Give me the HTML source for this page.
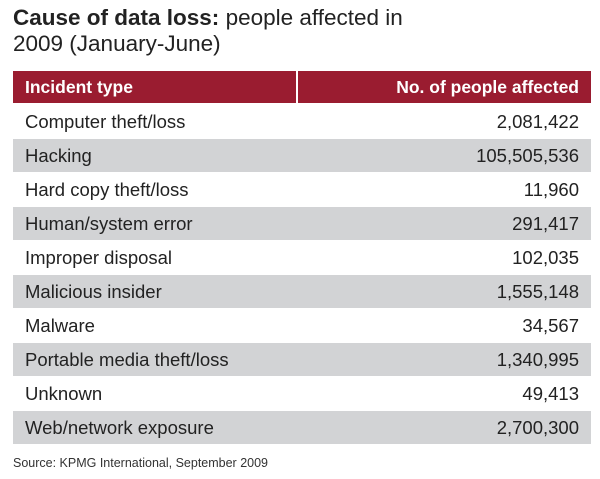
<!DOCTYPE html>
<html><head><style>
body{margin:0;width:600px;height:479px;background:#fff;font-family:"Liberation Sans",sans-serif;color:#222;position:relative;overflow:hidden}
.t{position:absolute;left:13px;top:5px;font-size:22.5px;line-height:26px;color:#222}
.h{position:absolute;left:13px;top:71px;height:32px;width:578px}
.h div{position:absolute;top:0;height:32px;background:#9a1c30;color:#fff;font-weight:bold;font-size:17.5px;line-height:33px}
.r{position:absolute;left:13px;width:578px;height:33px;font-size:18.5px;line-height:34px}
.r span{position:absolute;left:12px}
.r b{position:absolute;right:12px;font-weight:normal}
.g{background:#d2d3d5}
.s{position:absolute;left:13px;top:456px;font-size:12.5px;color:#333}
</style></head><body>
<div class="t"><b>Cause of data loss:</b> people affected in<br>2009 (January-June)</div>
<div class="h"><div style="left:0;width:283px;padding-left:12px;box-sizing:border-box">Incident type</div><div style="left:285px;width:293px;text-align:right;padding-right:12px;box-sizing:border-box">No. of people affected</div></div>
<div class="r" style="top:105px"><span>Computer theft/loss</span><b>2,081,422</b></div>
<div class="r g" style="top:139px"><span>Hacking</span><b>105,505,536</b></div>
<div class="r" style="top:173px"><span>Hard copy theft/loss</span><b>11,960</b></div>
<div class="r g" style="top:207px"><span>Human/system error</span><b>291,417</b></div>
<div class="r" style="top:241px"><span>Improper disposal</span><b>102,035</b></div>
<div class="r g" style="top:275px"><span>Malicious insider</span><b>1,555,148</b></div>
<div class="r" style="top:309px"><span>Malware</span><b>34,567</b></div>
<div class="r g" style="top:343px"><span>Portable media theft/loss</span><b>1,340,995</b></div>
<div class="r" style="top:377px"><span>Unknown</span><b>49,413</b></div>
<div class="r g" style="top:411px"><span>Web/network exposure</span><b>2,700,300</b></div>
<div class="s">Source: KPMG International, September 2009</div>
</body></html>
